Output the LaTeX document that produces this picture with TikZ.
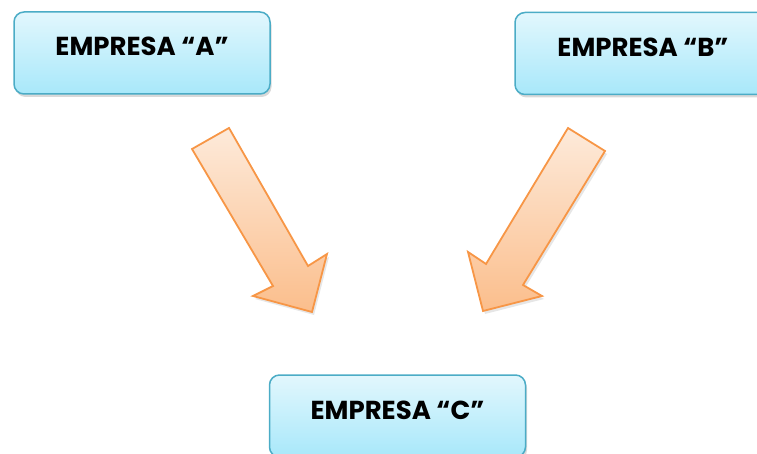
\documentclass[tikz,border=0pt]{standalone}
\usepackage{fontspec}
\setmainfont{Poppins}
\usetikzlibrary{shadows}
\definecolor{boxline}{RGB}{75,172,198}
\definecolor{boxtop}{RGB}{226,247,253}
\definecolor{boxbot}{RGB}{168,232,250}
\definecolor{arrline}{RGB}{247,150,70}
\definecolor{arrtop}{RGB}{253,234,218}
\definecolor{arrbot}{RGB}{251,190,140}
\tikzset{
  company/.style={draw=boxline, line width=1.5pt, rounded corners=10pt,
    top color=boxtop, bottom color=boxbot,
    minimum width=256pt, minimum height=82pt,
    font=\bfseries\fontsize{26}{30}\selectfont,
    text height=18pt, text depth=12pt,
    drop shadow={shadow xshift=1.5pt, shadow yshift=-3pt, opacity=0.3}},
  blockarrow/.style={draw=arrline, line width=1.8pt, line join=miter,
    top color=arrtop, bottom color=arrbot,
    drop shadow={shadow xshift=2pt, shadow yshift=-3pt, opacity=0.2}}
}
\begin{document}
\begin{tikzpicture}[x=1pt,y=-1pt]
\useasboundingbox (0,0) rectangle (757,454);
\begin{scope}
\clip (0,0) rectangle (757,454);
\node[company] (A) at (142,53) {EMPRESA “A”};
\node[company] (B) at (643,53.5) {EMPRESA “B”};
\node[company] (C) at (397.5,416) {EMPRESA “C”};
\path[blockarrow] (192,149) -- (229,128) -- (308,266) -- (327,254) -- (312,312) -- (253,296) -- (273,286) -- cycle;
\path[blockarrow] (568,128) -- (605,151) -- (523,285) -- (542,296) -- (483,311) -- (468,252) -- (486,264) -- cycle;
\end{scope}
\end{tikzpicture}
\end{document}
